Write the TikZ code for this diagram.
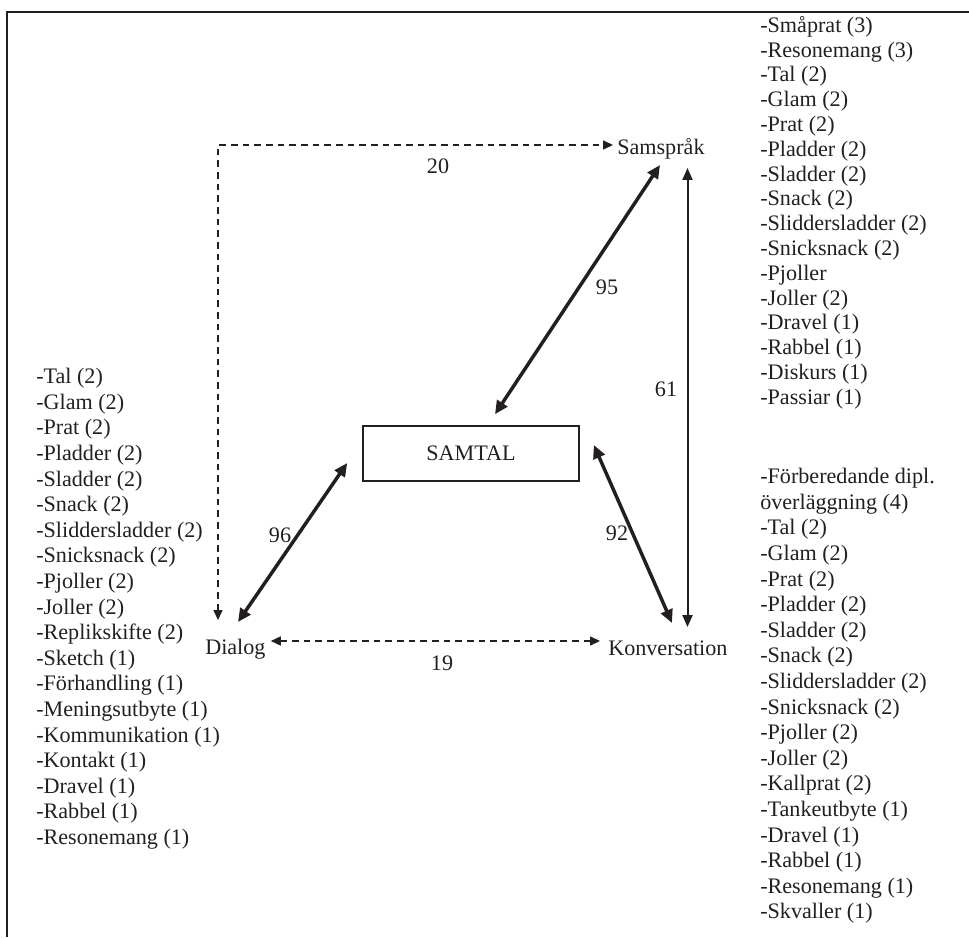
\documentclass[tikz,border=0pt]{standalone}
\usepackage{fontspec}
\setmainfont{Liberation Serif}
\usepackage{tikz}
\usetikzlibrary{arrows.meta}
\definecolor{ink}{RGB}{35,31,32}

\begin{document}
\begin{tikzpicture}[x=0.75pt,y=-0.75pt,color=ink,
  every node/.style={inner sep=0pt,font=\fontsize{16.6}{19.2}\selectfont},
  lst/.style={anchor=north west,align=left},
  fat/.style={{Triangle[length=10pt,width=9pt]}-{Triangle[length=10pt,width=9pt]},line width=2.6pt},
  slim/.style={{Triangle[length=9pt,width=7.5pt]}-{Triangle[length=9pt,width=7.5pt]},line width=1.5pt},
  dsh/.style={{Triangle[length=7.5pt,width=6.8pt]}-{Triangle[length=7.5pt,width=6.8pt]},line width=1pt,dash pattern=on 5pt off 3.75pt}]
\useasboundingbox (0,0) rectangle (969,937);
\draw[line width=1.7pt] (7,937) -- (7,12) -- (969,12);
%
\node[draw,line width=1.2pt,minimum width=162pt,minimum height=41.25pt] (samtal) at (471,453.5) {SAMTAL};
\node[anchor=base west] (sams) at (617,155) {Samspråk};
\node[anchor=base west] (dialog) at (205,654) {Dialog};
\node[anchor=base west] (konv) at (608,655) {Konversation};
%
\draw[dsh] ([shift={(13,-34)}]dialog.base west) |- ([shift={(-4,-10)}]sams.base west);
\draw[dsh] ([shift={(5,-13)}]dialog.base east) -- ([shift={(-8,-14)}]konv.base west);
\draw[fat] ([shift={(24,-11)}]samtal.north) -- ([shift={(43,10)}]sams.base west);
\draw[fat] ([shift={(-15,9.5)}]samtal.west) -- ([shift={(33,-32)}]dialog.base west);
\draw[fat] ([shift={(14,-8.5)}]samtal.east) -- ([shift={(64,-32)}]konv.base west);
\draw[slim] ([shift={(70.5,13)}]sams.base west) -- ([shift={(79.5,-28)}]konv.base west);
%
\node (n20) at (438,166) {20};
\node (n95) at (607,287) {95};
\node (n61) at (666,389) {61};
\node (n96) at (280,535) {96};
\node (n92) at (617,533) {92};
\node (n19) at (442,663) {19};
%
\node[lst] (ldialog) at (36,368) {-Tal (2)\\-Glam (2)\\-Prat (2)\\-Pladder (2)\\-Sladder (2)\\-Snack (2)\\-Sliddersladder (2)\\-Snicksnack (2)\\-Pjoller (2)\\-Joller (2)\\-Replikskifte (2)\\-Sketch (1)\\-Förhandling (1)\\-Meningsutbyte (1)\\-Kommunikation (1)\\-Kontakt (1)\\-Dravel (1)\\-Rabbel (1)\\-Resonemang (1)};
\node[lst,font=\fontsize{16.6}{18.6}\selectfont] (lsams) at (760,16) {-Småprat (3)\\-Resonemang (3)\\-Tal (2)\\-Glam (2)\\-Prat (2)\\-Pladder (2)\\-Sladder (2)\\-Snack (2)\\-Sliddersladder (2)\\-Snicksnack (2)\\-Pjoller\\-Joller (2)\\-Dravel (1)\\-Rabbel (1)\\-Diskurs (1)\\-Passiar (1)};
\node[lst] (lkonv) at (760,468) {-Förberedande dipl.\\överläggning (4)\\-Tal (2)\\-Glam (2)\\-Prat (2)\\-Pladder (2)\\-Sladder (2)\\-Snack (2)\\-Sliddersladder (2)\\-Snicksnack (2)\\-Pjoller (2)\\-Joller (2)\\-Kallprat (2)\\-Tankeutbyte (1)\\-Dravel (1)\\-Rabbel (1)\\-Resonemang (1)\\-Skvaller (1)};
\end{tikzpicture}
\end{document}
